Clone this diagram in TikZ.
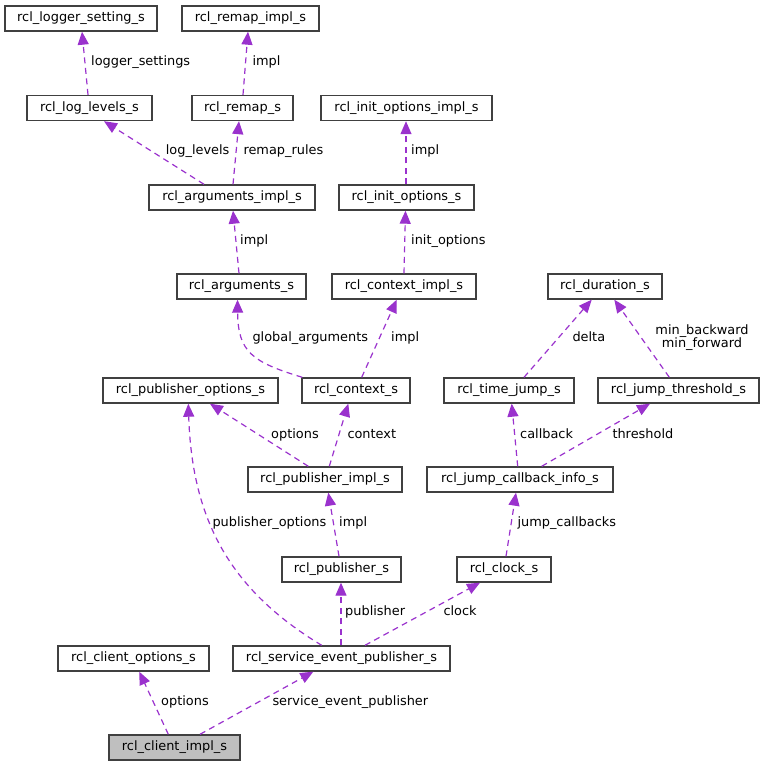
\documentclass[tikz,border=0pt]{standalone}
\usepackage{fontspec}
\setmainfont{DejaVu Sans}
\usetikzlibrary{arrows.meta}
\definecolor{edgec}{HTML}{9A32CD}
\definecolor{boxc}{HTML}{404040}
\definecolor{mainfill}{HTML}{BFBFBF}
\tikzset{
  cls/.style={draw=boxc, line width=1.4pt, fill=white, inner sep=0pt, minimum height=25pt,
    font=\fontsize{12.9}{14}\selectfont, text height=9.6pt, text depth=3pt},
  dep/.style={draw=edgec, line width=1.2pt, dash pattern=on 6pt off 4.5pt,
    -{Triangle[length=13pt,width=11pt,fill=edgec]}},
  lbl/.style={anchor=west, inner sep=0pt, font=\fontsize{12.9}{14}\selectfont, text height=9.6pt, text depth=3pt}
}
\begin{document}
\begin{tikzpicture}[x=1pt,y=-1pt]
\useasboundingbox (0,0) rectangle (764,767);
% nodes
\node[cls, minimum width=152pt] (logger) at (81,18.5) {rcl\_logger\_setting\_s};
\node[cls, minimum width=137pt] (remapimpl) at (250.5,18.5) {rcl\_remap\_impl\_s};
\node[cls, minimum width=125pt] (loglevels) at (89.5,108) {rcl\_log\_levels\_s};
\node[cls, minimum width=101pt] (remap) at (242.5,108) {rcl\_remap\_s};
\node[cls, minimum width=171pt] (initimpl) at (406.5,108) {rcl\_init\_options\_impl\_s};
\node[cls, minimum width=166pt] (argsimpl) at (232,197.5) {rcl\_arguments\_impl\_s};
\node[cls, minimum width=135pt] (init) at (406.5,197.5) {rcl\_init\_options\_s};
\node[cls, minimum width=129pt] (args) at (241.5,286.5) {rcl\_arguments\_s};
\node[cls, minimum width=144pt] (ctximpl) at (404,286.5) {rcl\_context\_impl\_s};
\node[cls, minimum width=114pt] (duration) at (605,286.5) {rcl\_duration\_s};
\node[cls, minimum width=175pt] (puboptions) at (190.5,390.5) {rcl\_publisher\_options\_s};
\node[cls, minimum width=108pt] (ctx) at (356,390.5) {rcl\_context\_s};
\node[cls, minimum width=130pt] (timejump) at (509,390.5) {rcl\_time\_jump\_s};
\node[cls, minimum width=161pt] (threshold) at (678.5,390.5) {rcl\_jump\_threshold\_s};
\node[cls, minimum width=154pt] (pubimpl) at (325,479.5) {rcl\_publisher\_impl\_s};
\node[cls, minimum width=186pt] (jumpcb) at (520,479.5) {rcl\_jump\_callback\_info\_s};
\node[cls, minimum width=119pt] (publisher) at (341.5,569.5) {rcl\_publisher\_s};
\node[cls, minimum width=94pt] (clock) at (504,569.5) {rcl\_clock\_s};
\node[cls, minimum width=151pt] (clientopt) at (133.5,658.5) {rcl\_client\_options\_s};
\node[cls, minimum width=217pt] (sep) at (341.5,658.5) {rcl\_service\_event\_publisher\_s};
\node[cls, minimum width=131pt, fill=mainfill] (client) at (174.5,747.5) {rcl\_client\_impl\_s};
% edges
\draw[dep] ([xshift=-1.5pt]loglevels.north) -- ([xshift=1pt]logger.south);
\draw[dep] ([xshift=0.5pt]remap.north) -- ([xshift=-2.5pt]remapimpl.south);
\draw[dep] ([xshift=-28pt]argsimpl.north) -- ([xshift=14.5pt]loglevels.south);
\draw[dep] ([xshift=1pt]argsimpl.north) -- ([xshift=-3.5pt]remap.south);
\draw[dep] ([xshift=-0.5pt]init.north) -- ([xshift=-0.5pt]initimpl.south);
\draw[dep] ([xshift=-2.5pt]args.north) -- ([xshift=1pt]argsimpl.south);
\draw[dep] (ctximpl.north) -- ([xshift=-1pt]init.south);
\draw[dep] ([xshift=1pt]ctx.north west) .. controls (252,362) and (238,352) .. ([xshift=-4pt]args.south);
\draw[dep] ([xshift=5.7pt]ctx.north) -- ([xshift=-7.3pt]ctximpl.south);
\draw[dep] ([xshift=15pt]timejump.north) -- ([xshift=-13.3pt]duration.south);
\draw[dep] ([xshift=-9.2pt]threshold.north) -- ([xshift=9.3pt]duration.south);
\draw[dep] ([xshift=-16.7pt]pubimpl.north) -- ([xshift=19.5pt]puboptions.south);
\draw[dep] ([xshift=4.3pt]pubimpl.north) -- ([xshift=-7.7pt]ctx.south);
\draw[dep] ([xshift=-2.3pt]jumpcb.north) -- ([xshift=2.7pt]timejump.south);
\draw[dep] ([xshift=21.7pt]jumpcb.north) -- ([xshift=-28.5pt]threshold.south);
\draw[dep] ([xshift=-2.5pt]publisher.north) -- ([xshift=3.3pt]pubimpl.south);
\draw[dep] ([xshift=2pt]clock.north) -- ([xshift=-4pt]jumpcb.south);
\draw[dep] ([xshift=-19.8pt]sep.north) .. controls (230,590) and (192,520) .. ([xshift=-2.2pt]puboptions.south);
\draw[dep] ([xshift=-0.5pt]sep.north) -- ([xshift=-0.5pt]publisher.south);
\draw[dep] ([xshift=23.5pt]sep.north) -- ([xshift=-24pt]clock.south);
\draw[dep] ([xshift=-6.2pt]client.north) -- ([xshift=5.8pt]clientopt.south);
\draw[dep] ([xshift=25.5pt]client.north) -- ([xshift=-28.2pt]sep.south);
% labels
\node[lbl] (l1) at (91,62.3) {logger\_settings};
\node[lbl] (l2) at (252.3,62.3) {impl};
\node[lbl] (l3) at (165.7,151.7) {log\_levels};
\node[lbl] (l4) at (243.3,151.7) {remap\_rules};
\node[lbl] (l5) at (411,151.7) {impl};
\node[lbl] (l6) at (240,240.7) {impl};
\node[lbl] (l7) at (411,240.7) {init\_options};
\node[lbl] (l8) at (252.3,337.7) {global\_arguments};
\node[lbl] (l9) at (391,337.7) {impl};
\node[lbl] (l10) at (572.3,337.7) {delta};
\node[anchor=center, inner sep=0pt, align=center, font=\fontsize{12.9}{13}\selectfont] (l11) at (702,337.5) {min\_backward\\min\_forward};
\node[lbl] (l12) at (271,434.7) {options};
\node[lbl] (l13) at (347.3,434.7) {context};
\node[lbl] (l14) at (520,434.7) {callback};
\node[lbl] (l15) at (612.3,434.7) {threshold};
\node[lbl] (l16) at (212.3,523.3) {publisher\_options};
\node[lbl] (l17) at (339,523.3) {impl};
\node[lbl] (l18) at (517.3,523.3) {jump\_callbacks};
\node[lbl] (l19) at (345,612.3) {publisher};
\node[lbl] (l20) at (443.3,612.3) {clock};
\node[lbl] (l21) at (161,702.3) {options};
\node[lbl] (l22) at (272.3,702.3) {service\_event\_publisher};
\end{tikzpicture}
\end{document}
